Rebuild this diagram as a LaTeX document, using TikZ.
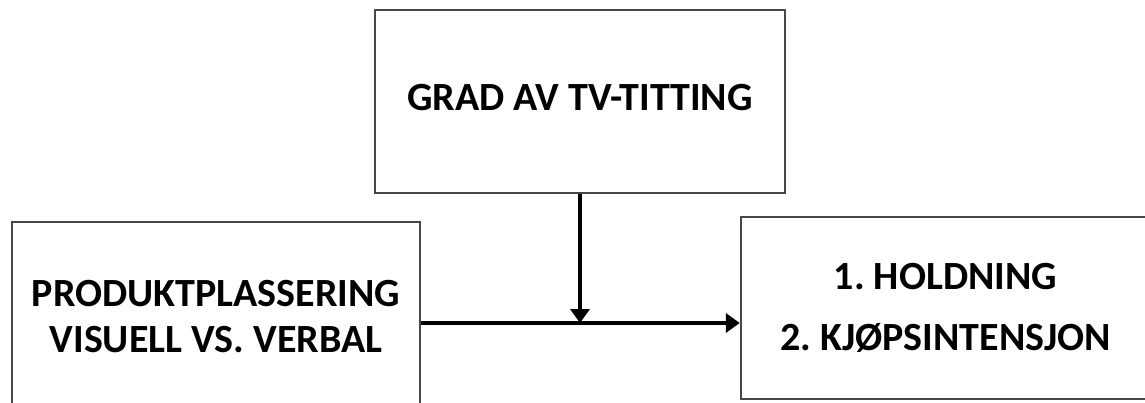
\documentclass[tikz,border=0pt]{standalone}
\usepackage{fontspec}
\setmainfont{Carlito}
\frenchspacing
\usetikzlibrary{arrows.meta}
\begin{document}
\begin{tikzpicture}[x=1pt,y=-1pt,
  box/.style={draw=black!72, line width=2.4pt, rectangle, align=center,
    font=\fontsize{40}{61}\selectfont\bfseries, inner sep=0pt},
  conn/.style={line width=3.8pt, black,
    -{Triangle[length=14pt,width=19pt]}}]
\useasboundingbox (0,0) rectangle (1145,402);
% moderator
\node[box, minimum width=410pt, minimum height=183pt] (tv) at (580,101.5)
  {\raisebox{8pt}{GRAD AV TV-TITTING}};
% independent variable (box runs past the lower edge)
\node[box, minimum width=408pt, minimum height=190pt,
  font=\fontsize{40}{46}\selectfont\bfseries] (prod) at (216,317)
  {PRODUKTPLASSERING\\VISUELL VS. VERBAL};
% dependent variables (box runs past the right edge)
\node[box, minimum width=409pt, minimum height=182pt] (out) at (945.5,308)
  {1. HOLDNING\\2. KJØPSINTENSJON};
% connectors
\coordinate (mid) at (tv.south |- 0,323);
\draw[conn] (prod.east |- mid) -- (out.west |- mid);
\draw[conn] (tv.south) -- (mid);
\end{tikzpicture}
\end{document}
